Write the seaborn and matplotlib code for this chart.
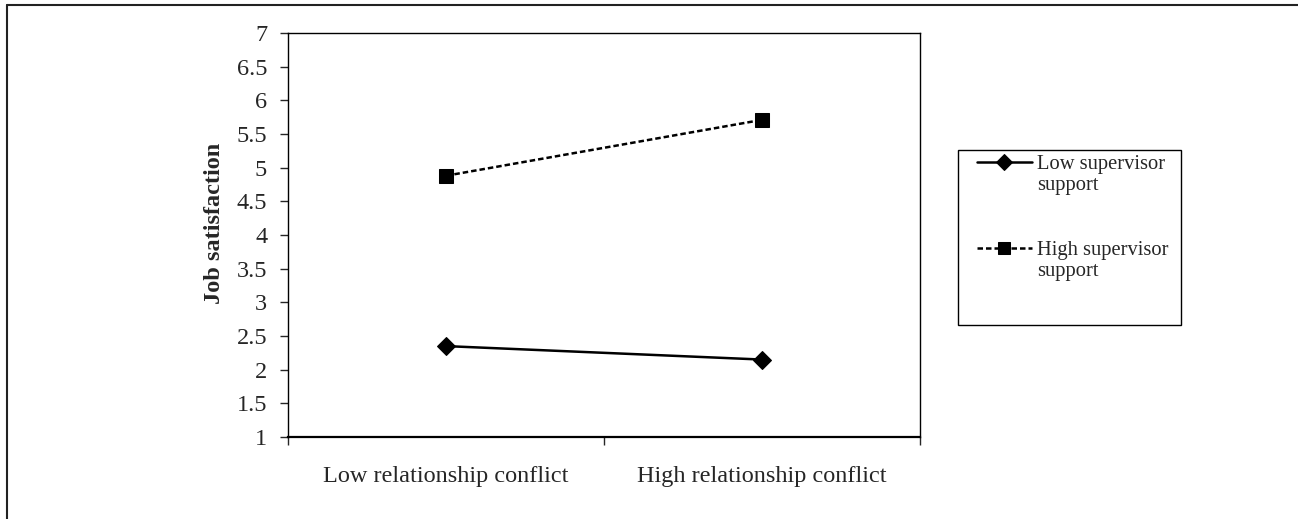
"""
Interaction plot: job satisfaction by relationship conflict and supervisor support
"""
import pandas as pd
import seaborn as sns
import matplotlib.pyplot as plt
from matplotlib.lines import Line2D
from matplotlib.patches import Rectangle
from matplotlib.legend_handler import HandlerLine2D
from matplotlib.ticker import FixedLocator, FormatStrFormatter

sns.set_style('ticks')
plt.rcParams['font.family'] = ['Liberation Serif', 'DejaVu Serif']

conflict = ['Low relationship conflict', 'High relationship conflict']
low_support = [2.35, 2.15]
high_support = [4.88, 5.71]
groups = ['Low supervisor\nsupport', 'High supervisor\nsupport']

df = pd.DataFrame({
    'conflict': conflict * 2,
    'satisfaction': low_support + high_support,
    'support': [groups[0]] * 2 + [groups[1]] * 2,
})


# legend handle sits on the first line of a two-line label
class TopHandler(HandlerLine2D):
    def create_artists(self, legend, orig_handle, xdescent, ydescent, width, height, fontsize, trans):
        arts = super().create_artists(legend, orig_handle, xdescent, ydescent, width, height, fontsize, trans)
        for a in arts:
            a.set_ydata([y + 0.6 * fontsize for y in a.get_ydata()])
            if a.get_marker() not in ('None', None, ''):
                a.set_markersize(a.get_markersize() * 0.85)
        return arts


fig = plt.figure(figsize=(12.98, 5.19), dpi=100)
ax = fig.add_axes([288 / 1298, 82 / 519, 632 / 1298, 404 / 519])

sns.lineplot(data=df, x='conflict', y='satisfaction', hue='support', style='support',
             palette=['black', 'black'], markers={groups[0]: 'D', groups[1]: 's'},
             dashes={groups[0]: '', groups[1]: (2.2, 1.2)},
             markersize=9, linewidth=1.8, markeredgecolor='black', ax=ax)
for ln in ax.lines:
    if ln.get_marker() == 's':
        ln.set_markersize(9.5)

# axes
ax.set_xlim(-0.5, 1.5)
ax.set_ylim(1, 7)
ax.set_yticks([1 + 0.5 * i for i in range(13)])
ax.yaxis.set_major_formatter(FormatStrFormatter('%g'))
ax.tick_params(axis='y', labelsize=17.5, length=6, width=1, direction='out', pad=9)
ax.tick_params(axis='x', which='major', labelsize=17.5, length=0, pad=21)
ax.xaxis.set_minor_locator(FixedLocator([-0.5, 0.5, 1.5]))
ax.tick_params(axis='x', which='minor', length=6, width=1, direction='out')
ax.set_xlabel('')
ax.set_ylabel('Job satisfaction', fontsize=17.5, fontweight='bold')
ax.yaxis.set_label_coords(-0.1, 0.528)
for s in ax.spines.values():
    s.set_visible(True)
    s.set_color('black')
    s.set_linewidth(1)
ax.spines['bottom'].set_linewidth(1.6)

# legend: entries without frame, box drawn separately
handles, labels = ax.get_legend_handles_labels()
leg = ax.legend(handles, labels, loc='upper left',
                bbox_to_anchor=(972 / 1298, 369 / 519), bbox_transform=fig.transFigure,
                borderaxespad=0, frameon=False,
                fontsize=14.8, handlelength=2.7, handletextpad=0.25, labelspacing=2.2,
                borderpad=0.22, handler_map={Line2D: TopHandler()})
fig.add_artist(Rectangle((958 / 1298, 194 / 519), 223 / 1298, 175 / 519, fill=False,
                         edgecolor='black', lw=1, transform=fig.transFigure))

# outer frame (left and top edges)
fig.add_artist(Line2D([7 / 1298, 7 / 1298], [0, 1 - 5 / 519], color='#222222', lw=1.5,
                      transform=fig.transFigure))
fig.add_artist(Line2D([7 / 1298, 1], [1 - 5 / 519, 1 - 5 / 519], color='#222222', lw=1.5,
                      transform=fig.transFigure))

plt.savefig('out.png', dpi=100)
